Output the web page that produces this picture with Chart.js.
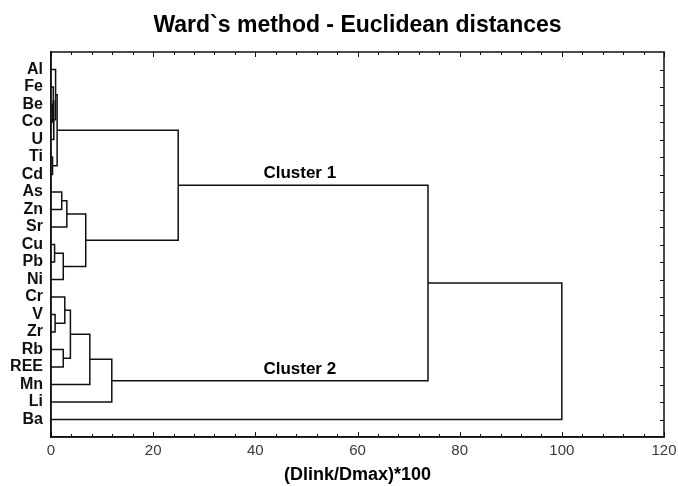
<!DOCTYPE html>
<html>
<head>
<meta charset="utf-8">
<script src="https://cdn.jsdelivr.net/npm/chart.js@4.4.1/dist/chart.umd.min.js"></script>
<style>
  html, body { margin: 0; padding: 0; background: #fff; }
  #wrap { width: 678px; height: 486px; }
</style>
</head>
<body>
<div id="wrap"><canvas id="dendro"></canvas></div>
<script>
// leaves, top to bottom
const labels = ['Al', 'Fe', 'Be', 'Co', 'U', 'Ti', 'Cd', 'As', 'Zn', 'Sr', 'Cu', 'Pb', 'Ni',
    'Cr', 'V', 'Zr', 'Rb', 'REE', 'Mn', 'Li', 'Ba'];

// linkage: node 21 + k joins mergeLeft[k] and mergeRight[k] at mergeHeight[k]
const mergeLeft   = [2, 1, 22, 0, 5, 24, 7, 27, 10, 29, 28, 26, 14, 13, 16, 34, 36, 37, 32, 39];
const mergeRight  = [3, 21, 4, 23, 6, 25, 8, 9, 11, 12, 30, 31, 15, 33, 17, 35, 18, 19, 38, 20];
const mergeHeight = [0.25, 0.45, 0.55, 0.9, 0.3, 1.2, 2.1, 3.1, 0.7, 2.4, 6.8, 24.9,
    0.8, 2.7, 2.4, 3.8, 7.6, 11.9, 73.8, 100];

const clusterNames = ['Cluster 1', 'Cluster 2'];
const clusterNodes = [32, 38];

const xTicks = [0, 20, 40, 60, 80, 100, 120];

const FONT = '"Liberation Sans", Arial, Helvetica, sans-serif';
const INK = '#111';

// node positions
let pos = labels.map((l, i) => i);
let hgt = labels.map(() => 0);
let datasets = [];
mergeLeft.forEach((l, k) => {
    let r = mergeRight[k];
    let H = mergeHeight[k];
    pos.push((pos[l] + pos[r]) / 2);
    hgt.push(H);
    datasets.push({
        data: [
            {x: hgt[l], y: pos[l]},
            {x: H, y: pos[l]},
            {x: H, y: pos[r]},
            {x: hgt[r], y: pos[r]}
        ],
        showLine: true,
        borderColor: INK,
        borderWidth: 1.5,
        pointRadius: 0,
        fill: false,
        tension: 0
    });
});

const frame = {
    id: 'frame',
    afterDraw(chart) {
        let ctx = chart.ctx;
        let a = chart.chartArea;
        let xs = chart.scales.x, ys = chart.scales.y;
        ctx.save();
        ctx.strokeStyle = INK;
        ctx.lineWidth = 1.5;
        ctx.strokeRect(a.left, a.top, a.right - a.left, a.bottom - a.top);
        ctx.lineWidth = 1;
        ctx.beginPath();
        for (let v = 0; v <= 120; v += 4) {
            let px = Math.round(xs.getPixelForValue(v)) + 0.5;
            let len = v % 20 === 0 ? 5 : 3;
            ctx.moveTo(px, a.bottom); ctx.lineTo(px, a.bottom - len);
            ctx.moveTo(px, a.top); ctx.lineTo(px, a.top + len);
        }
        labels.forEach((l, i) => {
            let py = Math.round(ys.getPixelForValue(i)) + 0.5;
            ctx.moveTo(a.right, py); ctx.lineTo(a.right - 4, py);
        });
        ctx.stroke();

        // title
        ctx.fillStyle = '#000';
        ctx.textAlign = 'center';
        ctx.textBaseline = 'middle';
        ctx.font = 'bold 23px ' + FONT;
        ctx.fillText('Ward`s method - Euclidean distances', (a.left + a.right) / 2, 26);

        // cluster labels above their branch
        ctx.font = 'bold 17px ' + FONT;
        ctx.textBaseline = 'bottom';
        clusterNodes.forEach((n, i) => {
            let px = xs.getPixelForValue(48.7);
            let py = ys.getPixelForValue(pos[n]);
            ctx.fillText(clusterNames[i], px, py - 3);
        });
        ctx.restore();
    }
};

new Chart(document.getElementById('dendro').getContext('2d'), {
    type: 'scatter',
    data: { datasets: datasets },
    options: {
        responsive: true,
        maintainAspectRatio: false,
        animation: false,
        layout: { padding: { top: 52, right: 14, left: 0, bottom: 0 } },
        plugins: {
            legend: { display: false },
            tooltip: { enabled: false },
            title: { display: false }
        },
        scales: {
            x: {
                type: 'linear',
                min: 0,
                max: 120,
                afterBuildTicks: (s) => { s.ticks = xTicks.map(v => ({value: v})); },
                ticks: {
                    font: { family: FONT, size: 15 },
                    color: '#3a3a3a',
                    padding: 5,
                    maxRotation: 0
                },
                grid: { drawOnChartArea: false, drawTicks: false },
                border: { display: true, color: INK, width: 1.5 },
                title: {
                    display: true,
                    text: '(Dlink/Dmax)*100',
                    color: '#000',
                    font: { family: FONT, size: 18, weight: 'bold' },
                    padding: { top: 0, bottom: 0 }
                },
                afterFit: (s) => {
                    s.height = 49;
                    s.paddingLeft = 0;
                    s.paddingRight = 0;
                }
            },
            y: {
                type: 'linear',
                reverse: true,
                min: -1,
                max: 21,
                afterBuildTicks: (s) => { s.ticks = labels.map((l, i) => ({value: i})); },
                ticks: {
                    autoSkip: false,
                    callback: (v) => labels[v] !== undefined ? labels[v] : '',
                    font: { family: FONT, size: 16, weight: 'bold' },
                    color: '#111',
                    padding: 8
                },
                grid: { drawOnChartArea: false, drawTicks: false },
                border: { display: true, color: INK, width: 1.5 },
                afterFit: (s) => {
                    s.width = 51;
                    s.paddingTop = 0;
                    s.paddingBottom = 0;
                }
            }
        }
    },
    plugins: [frame]
});
</script>
</body>
</html>
